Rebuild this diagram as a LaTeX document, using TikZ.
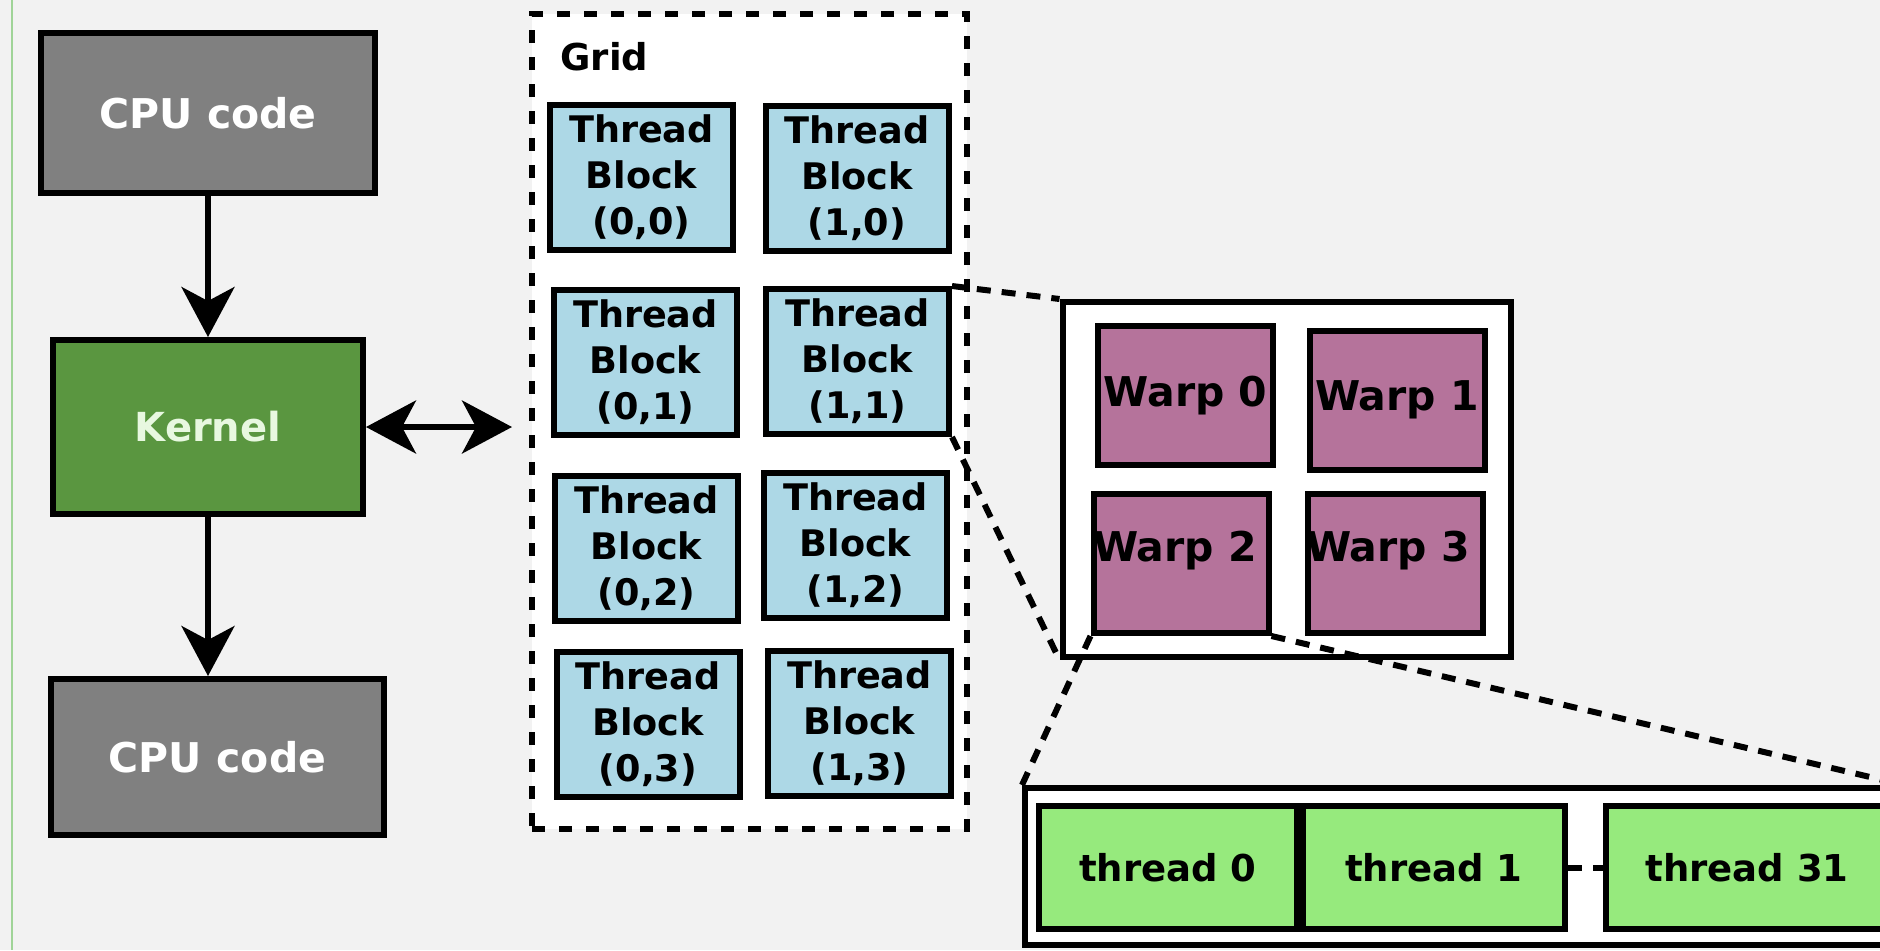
\documentclass[tikz,border=0pt]{standalone}
\usepackage{fontspec}
\setmainfont{DejaVu Sans}
\usetikzlibrary{arrows.meta}
\definecolor{bg}{HTML}{F2F2F2}
\definecolor{sideline}{HTML}{A0D498}
\definecolor{cpugray}{HTML}{808080}
\definecolor{kerngreen}{HTML}{5A9640}
\definecolor{kerntext}{HTML}{E8F8E0}
\definecolor{blockblue}{HTML}{ADD8E6}
\definecolor{warpc}{HTML}{B5739B}
\definecolor{thgreen}{HTML}{96EA7D}
\tikzset{
  cpubox/.style={draw, line width=3pt, fill=cpugray, text=white, minimum width=167pt, minimum height=80pt, inner sep=0pt, font=\fontsize{20.5}{24}\selectfont\bfseries},
  kernbox/.style={draw, line width=3pt, fill=kerngreen, text=kerntext, minimum width=155pt, minimum height=87pt, inner sep=0pt, font=\fontsize{20}{24}\selectfont\bfseries},
  tb/.style={draw, line width=3pt, fill=blockblue, minimum width=91.5pt, minimum height=72.5pt, align=center, inner sep=0pt, font=\fontsize{18.3}{23}\selectfont\bfseries},
  wp/.style={draw, line width=3pt, fill=warpc, minimum width=87.5pt, minimum height=69.5pt, inner sep=0pt, font=\fontsize{20.5}{24}\selectfont\bfseries},
  thbox/.style={draw, line width=3pt, fill=thgreen, minimum height=61.5pt, inner sep=0pt, font=\fontsize{18.5}{22}\selectfont\bfseries},
  flow/.style={line width=2.7pt, -{Stealth[length=25pt,width=26.5pt,inset=7pt]}},
  dflow/.style={line width=2.7pt, {Stealth[length=25pt,width=26.5pt,inset=7pt]}-{Stealth[length=25pt,width=26.5pt,inset=7pt]}},
  zoomline/.style={line width=3pt, dash pattern=on 7pt off 5.5pt},
}
\begin{document}
\begin{tikzpicture}[x=0.5pt,y=-0.5pt]
\clip (0,0) rectangle (1880,950);
\fill[bg] (0,0) rectangle (1880,950);
\draw[sideline, line width=1.2pt] (12,0) -- (12,950);

% left column
\node[cpubox] (cpu1) at (208,113) {CPU code};
\node[kernbox] (kernel) at (208,427) {Kernel};
\node[cpubox, minimum width=166.5pt, minimum height=78pt] (cpu2) at (217.5,757) {CPU code};

% grid
\node[draw, line width=3pt, dash pattern=on 6.5pt off 7pt, fill=white, minimum width=217.5pt, minimum height=407.5pt, inner sep=0pt] (grid) at (749.5,421.5) {};
\node[anchor=base west, inner sep=0pt, font=\fontsize{18.5}{22}\selectfont\bfseries] (gridlabel) at (560,70) {Grid};

\node[tb] (b00) at (641.5,177) {Thread\\Block\\(0,0)};
\node[tb] (b10) at (857,178.5) {Thread\\Block\\(1,0)};
\node[tb] (b01) at (645.5,362.5) {Thread\\Block\\(0,1)};
\node[tb] (b11) at (857.5,361.5) {Thread\\Block\\(1,1)};
\node[tb] (b02) at (646.5,548) {Thread\\Block\\(0,2)};
\node[tb] (b12) at (855.5,545.5) {Thread\\Block\\(1,2)};
\node[tb] (b03) at (648,724) {Thread\\Block\\(0,3)};
\node[tb] (b13) at (859.5,723) {Thread\\Block\\(1,3)};

% warp box
\node[draw, line width=3pt, fill=white, minimum width=224pt, minimum height=177.5pt, inner sep=0pt] (warpbox) at (1286.5,479.5) {};
\node[wp] (w0) at (1185.5,395.5) {Warp 0};
\node[wp] (w1) at (1397,400) {Warp 1};
\node[wp, label={[xshift=-3pt, yshift=6.5pt, font=\fontsize{20.5}{24}\selectfont\bfseries]center:Warp 2}] (w2) at (1181,563.5) {};
\node[wp, label={[xshift=-3.5pt, yshift=6.5pt, font=\fontsize{20.5}{24}\selectfont\bfseries]center:Warp 3}] (w3) at (1395,563.5) {};

% threads
\node[draw, line width=3pt, fill=white, minimum width=438pt, minimum height=78.5pt, inner sep=0pt] (threads) at (1463,866.5) {};
\node[thbox, minimum width=129pt] (t0) at (1168,867.5) {thread 0};
\node[thbox, minimum width=131pt] (t1) at (1434,867.5) {thread 1};
\node[thbox, minimum width=141pt] (t31) at (1747,867.5) {thread 31};

% connectors
\draw[flow] (cpu1.south) -- (kernel.north);
\draw[flow] (kernel.south) -- (kernel.south |- cpu2.north);
\draw[dflow, shorten >=8.5pt] (kernel.east) -- (kernel.east -| grid.west);

\draw[zoomline] (b11.north east) -- (warpbox.north west);
\draw[zoomline] (b11.south east) -- (warpbox.south west);
\draw[zoomline] (w2.south west) -- (threads.north west);
\draw[zoomline] (w2.south east) -- (threads.north east);
\draw[zoomline] (t1.east) -- (t31.west);
\end{tikzpicture}
\end{document}
